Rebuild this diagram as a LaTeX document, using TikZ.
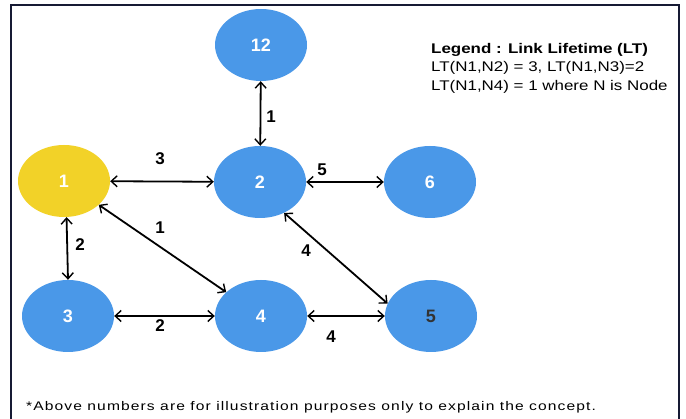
\documentclass[tikz,border=0pt]{standalone}
\usepackage{fontspec}
\setmainfont{Liberation Sans}
\newfontfamily\footfont[LetterSpace=7]{Liberation Sans}
\usetikzlibrary{arrows.meta,shapes.geometric}
\definecolor{nodeblue}{RGB}{74,152,232}
\definecolor{nodeyellow}{RGB}{242,210,40}
\definecolor{framecol}{RGB}{22,26,52}
\tikzset{
  netnode/.style={ellipse,fill=nodeblue,minimum width=92pt,minimum height=72pt,inner sep=0pt,
    text=white,font=\fontsize{18}{18}\selectfont\bfseries},
  linkarrow/.style={{Straight Barb[length=6pt,width=11pt,line width=1.4pt]}-{Straight Barb[length=6pt,width=11pt,line width=1.4pt]},line width=1.8pt,black},
  linklabel/.style={font=\fontsize{17}{17}\selectfont\bfseries,text=black,inner sep=0pt},
}
\begin{document}
\begin{tikzpicture}[x=1pt,y=-1pt]
\useasboundingbox (0,0) rectangle (686,419);
\fill[white] (0,0) rectangle (686,419);
\draw[framecol,line width=2.5pt] (11,419) -- (11,5) -- (679,5) -- (679,419);

\node[netnode] (N12) at (261,45) {12};
\node[netnode,fill=nodeyellow] (N1) at (64,181) {1};
\node[netnode] (N2) at (260,182) {2};
\node[netnode] (N6) at (430,182) {6};
\node[netnode] (N3) at (68,316) {3};
\node[netnode] (N4) at (261,316) {4};
\node[netnode,text=black!80] (N5) at (431,316) {5};

\draw[linkarrow] (N12) -- (N2);
\draw[linkarrow] (N1) -- (N2);
\draw[linkarrow] (N2) -- (N6);
\draw[linkarrow] (N1.-86) -- (N3.north);
\draw[linkarrow] (N1) -- (N4);
\draw[linkarrow] (N2.-52) -- (N5.164);
\draw[linkarrow] (N3) -- (N4);
\draw[linkarrow] (N4) -- (N5);

\node[linklabel] (l1) at (271,117) {1};
\node[linklabel] (l2) at (160,159) {3};
\node[linklabel] (l3) at (322,170) {5};
\node[linklabel] (l4) at (80,245) {2};
\node[linklabel] (l5) at (160,228) {1};
\node[linklabel] (l6) at (306,251) {4};
\node[linklabel] (l7) at (160,326) {2};
\node[linklabel] (l8) at (331,337) {4};

\node[anchor=north west,inner sep=0pt] (legend) at (431,40)
  {\scalebox{1.21}[1]{\fontsize{14}{18.5}\selectfont\begin{tabular}{@{}l@{}}\textbf{Legend : Link Lifetime (LT)}\\LT(N1,N2) = 3, LT(N1,N3)=2\\LT(N1,N4) = 1 where N is Node\end{tabular}}};

\node[anchor=west,inner sep=0pt] (foot) at (26,407)
  {\scalebox{1.25}[1]{\footfont\fontsize{12.5}{14}\selectfont *Above numbers are for illustration purposes only to explain the concept.}};
\end{tikzpicture}
\end{document}
